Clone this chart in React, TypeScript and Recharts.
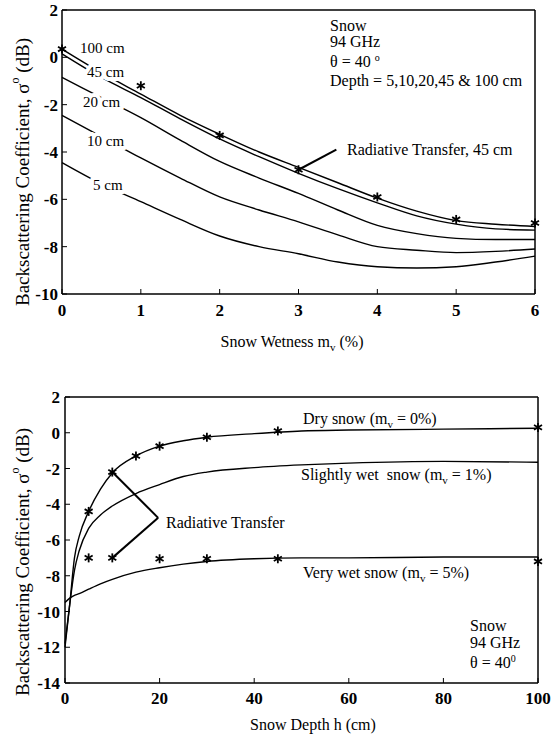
import { ComposedChart, Line, Scatter, XAxis, YAxis, ReferenceLine } from "recharts";

// top panel: sigma0 vs snow wetness, one curve per snow depth
const wetness = [0, 0.5, 1, 1.5, 2, 2.5, 3, 3.5, 4, 4.5, 5, 5.5, 6];
const depth100 = [0.35, -0.65, -1.55, -2.45, -3.25, -4.0, -4.65, -5.3, -5.95, -6.5, -6.9, -7.05, -7.15];
const depth45 = [0.15, -0.85, -1.7, -2.6, -3.45, -4.2, -4.9, -5.55, -6.15, -6.7, -7.05, -7.25, -7.3];
const depth20 = [-0.85, -1.7, -2.55, -3.5, -4.4, -5.1, -5.75, -6.45, -7.1, -7.45, -7.65, -7.7, -7.7];
const depth10 = [-2.45, -3.35, -4.25, -5.1, -5.9, -6.45, -6.95, -7.5, -8.0, -8.15, -8.25, -8.2, -8.1];
const depth5 = [-4.45, -5.35, -6.1, -6.85, -7.55, -8.0, -8.3, -8.65, -8.85, -8.9, -8.85, -8.65, -8.4];

// radiative transfer points, 45 cm
const rtWetness = [0, 1, 2, 3, 4, 5, 6];
const rt45 = [0.35, -1.2, -3.3, -4.75, -5.9, -6.85, -7.0];

const wetTicks = [0, 1, 2, 3, 4, 5, 6];
const topYTicks = [2, 0, -2, -4, -6, -8, -10];

// bottom panel: sigma0 vs snow depth
const depthCm = [0, 1, 2, 3, 5, 7.5, 10, 15, 20, 25, 30, 40, 50, 60, 80, 100];
const drySnow = [-12, -9.6, -7.0, -5.8, -4.4, -3.15, -2.25, -1.3, -0.75, -0.45, -0.25, -0.05, 0.1, 0.15, 0.2, 0.25];
const slightlyWet = [-11.8, -9.6, -7.7, -6.6, -5.35, -4.6, -4.1, -3.4, -2.9, -2.45, -2.2, -1.95, -1.8, -1.7, -1.6, -1.65];
const veryWet = [-9.5, -9.25, -9.1, -9.0, -8.75, -8.45, -8.2, -7.8, -7.55, -7.35, -7.2, -7.05, -7.0, -7.0, -6.95, -6.95];

const rtDryDepth = [5, 10, 15, 20, 30, 45, 100];
const rtDry = [-4.4, -2.2, -1.3, -0.75, -0.25, 0.1, 0.3];
const rtWetDepth = [5, 10, 20, 30, 45, 100];
const rtVeryWet = [-7.0, -7.0, -7.05, -7.05, -7.05, -7.2];

const depthTicks = [0, 20, 40, 60, 80, 100];
const bottomYTicks = [2, 0, -2, -4, -6, -8, -10, -12, -14];

const topData = wetness.map((w, i) => ({
  w,
  d100: depth100[i],
  d45: depth45[i],
  d20: depth20[i],
  d10: depth10[i],
  d5: depth5[i],
}));
const topStars = rtWetness.map((w, i) => ({ w, s: rt45[i] }));

const bottomData = depthCm.map((h, i) => ({
  h,
  dry: drySnow[i],
  slight: slightlyWet[i],
  wet: veryWet[i],
}));
const dryStars = rtDryDepth.map((h, i) => ({ h, s: rtDry[i] }));
const wetStars = rtWetDepth.map((h, i) => ({ h, s: rtVeryWet[i] }));

const Star = (props: any) => {
  const { cx, cy } = props;
  if (cx == null || cy == null) return null;
  return (
    <g stroke="#000" strokeWidth={1.8}>
      <line x1={cx} y1={cy - 4.5} x2={cx} y2={cy + 4.5} />
      <line x1={cx - 4} y1={cy - 2.3} x2={cx + 4} y2={cy + 2.3} />
      <line x1={cx - 4} y1={cy + 2.3} x2={cx + 4} y2={cy - 2.3} />
    </g>
  );
};

const axisLine = { stroke: "#000", strokeWidth: 1.5 };
const tickLine = { stroke: "#000", strokeWidth: 1 };
const tickFont = { fill: "#000", fontSize: 17, fontWeight: "bold" as const };

const Sub = ({ t }: { t: string }) => (
  <>
    <tspan dy={4} fontSize={11}>
      {t}
    </tspan>
    <tspan dy={-4}>{"\u00a0"}</tspan>
  </>
);

const Note = ({ x, y, size = 16, halo = false, anchor = "start", children }: any) => (
  <text
    x={x}
    y={y}
    fontSize={size}
    fill="#000"
    textAnchor={anchor}
    stroke={halo ? "#fff" : "none"}
    strokeWidth={halo ? 8 : 0}
    strokeLinejoin="round"
    paintOrder="stroke"
  >
    {children}
  </text>
);

const YTitle = ({ cx, cy }: { cx: number; cy: number }) => (
  <text
    transform={`translate(${cx},${cy}) rotate(-90)`}
    textAnchor="middle"
    dominantBaseline="central"
    fontSize={19}
    fill="#000"
  >
    Backscattering Coefficient, σ
    <tspan dy={-7} fontSize={12}>
      o
    </tspan>
    <tspan dy={7}> (dB)</tspan>
  </text>
);

const curve = (key: string) => (
  <Line
    key={key}
    dataKey={key}
    type="monotone"
    dot={false}
    stroke="#000"
    strokeWidth={1.4}
    isAnimationActive={false}
  />
);

export default function App() {
  return (
    <div
      style={{
        position: "absolute",
        left: 0,
        top: 0,
        width: 551,
        height: 738,
        background: "#fff",
        fontFamily: "'Liberation Serif', 'DejaVu Serif', serif",
      }}
    >
      <div style={{ position: "absolute", left: 0, top: 0 }}>
        <ComposedChart
          width={551}
          height={360}
          data={topData}
          margin={{ top: 9, right: 15, bottom: 36, left: 22 }}
        >
          <XAxis
            dataKey="w"
            type="number"
            domain={[0, 6]}
            ticks={wetTicks}
            height={30}
            axisLine={axisLine}
            tickLine={tickLine}
            tickSize={-5}
            tickMargin={15}
            tick={tickFont}
          />
          <XAxis
            xAxisId="top"
            orientation="top"
            type="number"
            domain={[0, 6]}
            ticks={wetTicks}
            height={1}
            axisLine={axisLine}
            tickLine={tickLine}
            tickSize={-4}
            tick={false}
          />
          <YAxis
            type="number"
            domain={[-10, 2]}
            ticks={topYTicks}
            width={40}
            axisLine={axisLine}
            tickLine={tickLine}
            tickSize={-5}
            tickMargin={9}
            tick={tickFont}
          />
          <YAxis
            yAxisId="right"
            orientation="right"
            type="number"
            domain={[-10, 2]}
            ticks={topYTicks}
            width={1}
            axisLine={axisLine}
            tickLine={tickLine}
            tickSize={-4}
            tick={false}
          />
          {curve("d100")}
          {curve("d45")}
          {curve("d20")}
          {curve("d10")}
          {curve("d5")}
          <Scatter data={topStars} dataKey="s" shape={<Star />} isAnimationActive={false} />
          <ReferenceLine
            segment={[
              { x: 3, y: -4.75 },
              { x: 3.48, y: -3.9 },
            ]}
            stroke="#000"
            strokeWidth={2}
          />
          <Note x={330} y={31}>Snow</Note>
          <Note x={330} y={47}>94 GHz</Note>
          <Note x={330} y={67}>
            θ = 40 <tspan dy={-6} fontSize={10}>o</tspan>
          </Note>
          <Note x={330} y={86}>Depth = 5,10,20,45 &amp; 100 cm</Note>
          <Note x={347} y={155}>Radiative Transfer, 45 cm</Note>
          <Note x={292} y={347} anchor="middle">
            Snow Wetness m<Sub t="v" />(%)
          </Note>
          <YTitle cx={22} cy={172} />
        </ComposedChart>
        {/* curve labels sit on top of the lines and cut them */}
        <svg
          width={551}
          height={360}
          style={{ position: "absolute", left: 0, top: 0, pointerEvents: "none" }}
        >
          <Note x={80} y={53} size={15} halo>100 cm</Note>
          <Note x={87} y={77} size={15} halo>45 cm</Note>
          <Note x={83} y={107} size={15} halo>20 cm</Note>
          <Note x={87} y={146} size={15} halo>10 cm</Note>
          <Note x={93} y={190} size={15} halo>5 cm</Note>
        </svg>
      </div>

      <div style={{ position: "absolute", left: 0, top: 370 }}>
        <ComposedChart
          width={551}
          height={368}
          data={bottomData}
          margin={{ top: 26, right: 12, bottom: 25, left: 25 }}
        >
          <XAxis
            dataKey="h"
            type="number"
            domain={[0, 100]}
            ticks={depthTicks}
            height={30}
            axisLine={axisLine}
            tickLine={tickLine}
            tickSize={-5}
            tickMargin={14}
            tick={tickFont}
          />
          <XAxis
            xAxisId="top"
            orientation="top"
            type="number"
            domain={[0, 100]}
            ticks={depthTicks}
            height={1}
            axisLine={axisLine}
            tickLine={tickLine}
            tickSize={-4}
            tick={false}
          />
          <YAxis
            type="number"
            domain={[-14, 2]}
            ticks={bottomYTicks}
            width={40}
            axisLine={axisLine}
            tickLine={tickLine}
            tickSize={-5}
            tickMargin={10}
            tick={tickFont}
          />
          <YAxis
            yAxisId="right"
            orientation="right"
            type="number"
            domain={[-14, 2]}
            ticks={bottomYTicks}
            width={1}
            axisLine={axisLine}
            tickLine={tickLine}
            tickSize={-4}
            tick={false}
          />
          {curve("dry")}
          {curve("slight")}
          {curve("wet")}
          <Scatter data={dryStars} dataKey="s" shape={<Star />} isAnimationActive={false} />
          <Scatter data={wetStars} dataKey="s" shape={<Star />} isAnimationActive={false} />
          <ReferenceLine
            segment={[
              { x: 10, y: -2.2 },
              { x: 19.7, y: -4.76 },
            ]}
            stroke="#000"
            strokeWidth={2}
          />
          <ReferenceLine
            segment={[
              { x: 19.7, y: -4.76 },
              { x: 10, y: -7.0 },
            ]}
            stroke="#000"
            strokeWidth={2}
          />
          <Note x={303} y={54}>
            Dry snow (m<Sub t="v" />= 0%)
          </Note>
          <Note x={301} y={110}>
            Slightly wet{"\u00a0"} snow (m<Sub t="v" />= 1%)
          </Note>
          <Note x={303} y={208}>
            Very wet snow (m<Sub t="v" />= 5%)
          </Note>
          <Note x={166} y={158}>Radiative Transfer</Note>
          <Note x={470} y={261}>Snow</Note>
          <Note x={470} y={278}>94 GHz</Note>
          <Note x={470} y={298}>
            θ = 40<tspan dy={-6} fontSize={10}>0</tspan>
          </Note>
          <Note x={313} y={360} anchor="middle">
            Snow Depth h (cm)
          </Note>
          <YTitle cx={22} cy={192} />
        </ComposedChart>
      </div>
    </div>
  );
}
